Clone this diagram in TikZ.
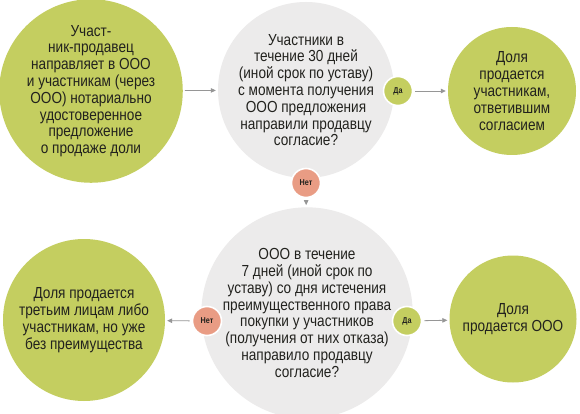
\documentclass[tikz,border=0pt]{standalone}
\usepackage{fontspec}
\newfontfamily\cond{Liberation Sans}[FakeStretch=0.85]
\usetikzlibrary{arrows.meta}
\definecolor{lime}{RGB}{196,206,96}
\definecolor{pale}{RGB}{236,235,235}
\definecolor{salmon}{RGB}{233,156,132}
\definecolor{ink}{RGB}{34,34,30}
\definecolor{arrowgrey}{RGB}{150,150,150}
\tikzset{
  bubble/.style={circle, inner sep=0pt, align=center, text=ink,
    font=\cond\fontsize{16}{16.8}\selectfont},
  greenbubble/.style={bubble, fill=lime},
  greybubble/.style={bubble, fill=pale},
  badge/.style={circle, inner sep=0pt, minimum size=29pt, draw=white, line width=1.6pt,
    text=ink, font=\cond\bfseries\fontsize{8.5}{9}\selectfont},
  yesbadge/.style={badge, fill=lime},
  nobadge/.style={badge, fill=salmon},
  link/.style={draw=arrowgrey, line width=0.8pt, -{Triangle[length=5pt,width=4.5pt]},
    shorten <=2pt, shorten >=2pt}
}
\begin{document}
\begin{tikzpicture}[x=1pt,y=-1pt]
\useasboundingbox[fill=white] (0,0) rectangle (580,414);
% circles
\node[greenbubble, minimum size=176pt] (c1) at (91,91)
  {Участ-\\ник-продавец\\направляет в ООО\\и участникам (через\\ООО) нотариально\\удостоверенное\\предложение\\о продаже доли};
\node[greybubble, minimum size=176pt] (c2) at (306,90)
  {Участники в\\течение 30 дней\\(иной срок по уставу)\\с момента получения\\ООО предложения\\направили продавцу\\согласие?};
\node[greenbubble, minimum size=128pt] (c3) at (512,91)
  {Доля\\продается\\участникам,\\ответившим\\согласием};
\node[greybubble, minimum size=190pt] (c4) at (307,313)
  {ООО в течение\\7 дней (иной срок по\\уставу) со дня истечения\\преимущественного права\\покупки у участников\\(получения от них отказа)\\направило продавцу\\согласие?};
\node[greenbubble, minimum size=162pt] (c5) at (84,320)
  {Доля продается\\третьим лицам либо\\участникам, но уже\\без преимущества};
\node[greenbubble, minimum size=127pt] (c6) at (513,319)
  {Доля\\продается ООО};
% badges
\node[yesbadge] (y1) at (398,91) {Да};
\node[nobadge] (n1) at (306,183) {Нет};
\node[nobadge] (n2) at (207,321) {Нет};
\node[yesbadge] (y2) at (407,321) {Да};
% connectors
\draw[link] (c1) -- (c2);
\draw[link] (y1) -- (c3);
\draw[link] (n1) -- (c4);
\draw[link] (n2) -- (c5);
\draw[link] (y2) -- (c6);
\end{tikzpicture}
\end{document}
